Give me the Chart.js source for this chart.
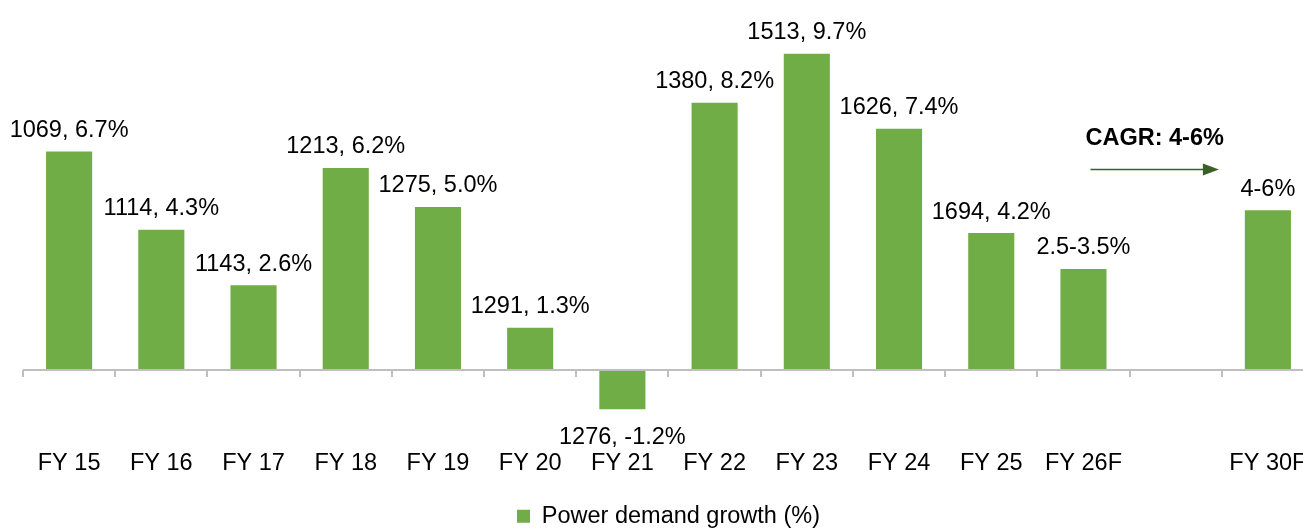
<!DOCTYPE html>
<html>
<head>
<meta charset="utf-8">
<script src="https://cdn.jsdelivr.net/npm/chart.js@4"></script>
<style>
  body { margin: 0; overflow: hidden; background: #fff; }
  #wrap { position: relative; width: 1320px; height: 528px; }
</style>
</head>
<body>
<div id="wrap"><canvas id="PowerDemand"></canvas></div>
<script>
// categories (blank slot between FY 26F and FY 30F)
var years = ['FY 15', 'FY 16', 'FY 17', 'FY 18', 'FY 19', 'FY 20', 'FY 21', 'FY 22', 'FY 23', 'FY 24', 'FY 25', 'FY 26F', '', 'FY 30F'];
// growth (%) - forecast ranges plotted at their read height
var growth = [6.7, 4.3, 2.6, 6.2, 5.0, 1.3, -1.2, 8.2, 9.7, 7.4, 4.2, 3.1, null, 4.9];
// label text shown over each bar
var barLabels = ['1069, 6.7%', '1114, 4.3%', '1143, 2.6%', '1213, 6.2%', '1275, 5.0%', '1291, 1.3%', '1276, -1.2%',
                 '1380, 8.2%', '1513, 9.7%', '1626, 7.4%', '1694, 4.2%', '2.5-3.5%', '', '4-6%'];
var cagrText = 'CAGR: 4-6%';

var FONT = '"Liberation Sans", Arial, sans-serif';
var FSIZE = 23.5;

//draws the value labels, zero axis with tick marks and the CAGR arrow
var extras = {
    id: 'extras',
    afterDatasetsDraw: function(chart) {
        var ctx = chart.ctx;
        var xs = chart.scales.x, ys = chart.scales.y;
        var zero = Math.round(ys.getPixelForValue(0));
        var step = xs.getPixelForValue(1) - xs.getPixelForValue(0);

        ctx.save();
        // zero line + ticks
        ctx.strokeStyle = '#bfbfbf';
        ctx.lineWidth = 2;
        ctx.beginPath();
        ctx.moveTo(chart.chartArea.left, zero);
        ctx.lineTo(chart.chartArea.right, zero);
        for (var k = 0; k <= years.length; k++) {
            var tx = Math.round(xs.getPixelForValue(0) - step / 2 + k * step);
            ctx.moveTo(tx, zero);
            ctx.lineTo(tx, zero + 7);
        }
        ctx.stroke();

        // data labels
        ctx.fillStyle = '#000';
        ctx.font = FSIZE + 'px ' + FONT;
        ctx.textAlign = 'center';
        ctx.textBaseline = 'middle';
        chart.getDatasetMeta(0).data.forEach(function(bar, i) {
            if (growth[i] === null) return;
            var y = growth[i] >= 0 ? bar.y - 21 : bar.y + 28;
            ctx.fillText(barLabels[i], bar.x, y);
        });

        // CAGR arrow
        var x1 = xs.getPixelForValue(11) + 7;
        var x2 = xs.getPixelForValue(13) - 49;
        var ay = ys.getPixelForValue(6.15);
        ctx.strokeStyle = '#3a5f27';
        ctx.fillStyle = '#3a5f27';
        ctx.lineWidth = 1.5;
        ctx.beginPath();
        ctx.moveTo(x1, ay);
        ctx.lineTo(x2 - 12, ay);
        ctx.stroke();
        ctx.beginPath();
        ctx.moveTo(x2, ay);
        ctx.lineTo(x2 - 16, ay - 6);
        ctx.lineTo(x2 - 16, ay + 6);
        ctx.closePath();
        ctx.fill();

        ctx.fillStyle = '#000';
        ctx.font = 'bold ' + FSIZE + 'px ' + FONT;
        ctx.fillText(cagrText, (x1 + x2) / 2, ys.getPixelForValue(7.1));
        ctx.restore();
    }
};

var myChart = new Chart(document.getElementById('PowerDemand'), {
    type: 'bar',
    data: {
        labels: years,
        datasets: [{
            label: 'Power demand growth (%)',
            data: growth,
            backgroundColor: '#70ad47',
            borderWidth: 0,
            categoryPercentage: 1,
            barPercentage: 0.5
        }]
    },
    options: {
        responsive: true,
        maintainAspectRatio: false,
        animation: false,
        layout: { padding: { left: 23, right: 6, top: 0, bottom: -10 } },
        plugins: {
            tooltip: { enabled: false },
            legend: {
                position: 'bottom',
                labels: {
                    color: '#000',
                    font: { family: FONT, size: FSIZE },
                    boxWidth: 13,
                    boxHeight: 13,
                    padding: 0
                }
            }
        },
        scales: {
            x: {
                grid: { display: false, drawTicks: false },
                border: { display: false },
                ticks: { color: '#000', font: { family: FONT, size: FSIZE }, padding: 4, maxRotation: 0, autoSkip: false },
                afterFit: function(scale) { scale.height = 59.5; }
            },
            y: {
                display: false,
                min: -2.3,
                max: 11.35
            }
        }
    },
    plugins: [extras]
});
</script>
</body>
</html>
